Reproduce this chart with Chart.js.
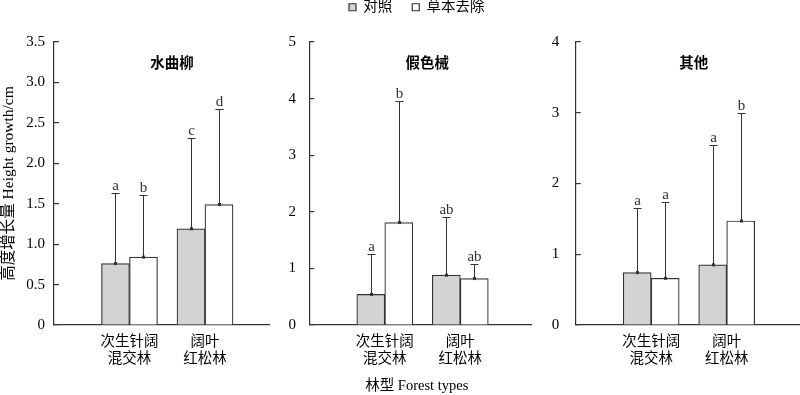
<!DOCTYPE html>
<html><head><meta charset="utf-8">
<script src="https://cdn.jsdelivr.net/npm/chart.js@4"></script>
<style>
html,body{margin:0;padding:0;width:800px;height:395px;overflow:hidden;background:#fff;}
canvas{position:absolute;}
</style></head><body>
<canvas id="c1" width="270" height="395" style="left:0;top:0"></canvas>
<canvas id="c2" width="290" height="415" style="left:270px;top:-20px"></canvas>
<canvas id="c3" width="260" height="395" style="left:540px;top:0"></canvas>
<script>
// ---------- data ----------
const CATEGORIES = ['次生针阔\n混交林', '阔叶\n红松林'];
const SERIES_NAMES = ['对照', '草本去除'];
const PANEL_NAMES = ['水曲柳', '假色械', '其他'];
const Y_TITLE = '高度增长量 Height growth/cm';
const X_TITLE = '林型 Forest types';

// 水曲柳
const P1_CONTROL = [0.76, 1.19];
const P1_REMOVAL = [0.84, 1.49];
const P1_CONTROL_UPPER = [1.63, 2.31];
const P1_REMOVAL_UPPER = [1.61, 2.67];
const P1_CONTROL_SIG = ['a', 'c'];
const P1_REMOVAL_SIG = ['b', 'd'];
// 假色械
const P2_CONTROL = [0.54, 0.88];
const P2_REMOVAL = [1.81, 0.82];
const P2_CONTROL_UPPER = [1.26, 1.91];
const P2_REMOVAL_UPPER = [3.95, 1.08];
const P2_CONTROL_SIG = ['a', 'ab'];
const P2_REMOVAL_SIG = ['b', 'ab'];
// 其他
const P3_CONTROL = [0.74, 0.85];
const P3_REMOVAL = [0.66, 1.47];
const P3_CONTROL_UPPER = [1.65, 2.54];
const P3_REMOVAL_UPPER = [1.74, 3.00];
const P3_CONTROL_SIG = ['a', 'a'];
const P3_REMOVAL_SIG = ['a', 'b'];

const Y_MAX = [3.5, 5, 4];
const Y_STEP = [0.5, 1, 1];

// ---------- styles ----------
const SERIF = '"Liberation Serif", "Noto Sans CJK SC", serif';
const AXIS = '#333';
Chart.defaults.color = '#000';
Chart.defaults.font.family = SERIF;

const errorBars = {
  id: 'errorBars',
  afterDatasetsDraw(chart, args, opts) {
    const ctx = chart.ctx, ys = chart.scales.y;
    chart.data.datasets.forEach((ds, i) => {
      const meta = chart.getDatasetMeta(i);
      meta.data.forEach((bar, j) => {
        const x = Math.round(bar.x) + 0.5;
        const yMean = bar.y;
        const yUp = Math.round(ys.getPixelForValue(ds.upper[j])) + 0.5;
        ctx.save();
        ctx.strokeStyle = opts.color; ctx.lineWidth = opts.lineWidth;
        ctx.beginPath();
        ctx.moveTo(x, yMean); ctx.lineTo(x, yUp);
        ctx.moveTo(x - opts.cap / 2, yUp); ctx.lineTo(x + opts.cap / 2, yUp);
        ctx.stroke();
        ctx.fillStyle = opts.color;
        ctx.fillRect(x - 1.5, yMean - 1.5, 3, 3);
        ctx.font = opts.font; ctx.textAlign = 'center'; ctx.textBaseline = 'alphabetic';
        ctx.fillText(ds.sig[j], x, yUp - opts.gap);
        ctx.restore();
      });
    });
  }
};
const panelTitle = {
  id: 'panelTitle',
  afterDraw(chart, args, opts) {
    const ctx = chart.ctx, a = chart.chartArea;
    ctx.save();
    ctx.font = opts.font; ctx.fillStyle = '#000';
    ctx.textAlign = 'center'; ctx.textBaseline = 'middle';
    ctx.fillText(opts.text, a.left + opts.dx, a.top + opts.dy);
    ctx.restore();
  }
};

function makePanel(id, k, ctrl, rem, ctrlUp, remUp, ctrlSig, remSig, cfg) {
  const toPts = arr => arr.map((v, i) => ({x: i + 1, y: v}));
  const scales = {
    x: {
      type: 'linear', min: 0, max: cfg.xMax, offset: false,
      grid: {display: true, offset: false, drawOnChartArea: false, drawTicks: false},
      border: {display: true, color: AXIS, width: 1.2},
      ticks: {
        stepSize: 1, autoSkip: false, maxRotation: 0, minRotation: 0, padding: 8,
        font: {size: 14.5, family: SERIF},
        callback: v => (Number.isInteger(v) && CATEGORIES[v - 1]) ? CATEGORIES[v - 1].split('\n') : ''
      },
      afterBuildTicks: s => { s.ticks = s.ticks.filter(t => Number.isInteger(t.value)); },
      afterFit: s => { s.height = cfg.xHeight; }
    },
    y: {
      min: 0, max: Y_MAX[k],
      grid: {display: true, drawOnChartArea: false, drawTicks: true, tickLength: -5, color: AXIS, lineWidth: 1.2},
      border: {display: true, color: AXIS, width: 1.2},
      ticks: {
        stepSize: Y_STEP[k], padding: cfg.yPad, font: {size: 15, family: SERIF},
        callback: v => v === 0 ? '0' : (Y_STEP[k] < 1 ? v.toFixed(1) : String(v))
      },
      title: cfg.yTitle ? {display: true, text: Y_TITLE, font: {size: 15.5, family: SERIF}, padding: {top: 0, bottom: 0}} : {display: false},
      afterFit: s => { s.width = cfg.yWidth; }
    }
  };
  if (cfg.rightSpace) {
    scales.yr = {
      position: 'right', display: true,
      grid: {display: false}, border: {display: false}, ticks: {display: false},
      afterFit: s => { s.width = cfg.rightSpace; }
    };
  }
  return new Chart(document.getElementById(id), {
    type: 'bar',
    data: {
      datasets: [
        {label: SERIES_NAMES[0], data: toPts(ctrl), upper: ctrlUp, sig: ctrlSig,
         backgroundColor: '#d3d3d3', borderColor: '#333', borderWidth: 1.2, barThickness: 28},
        {label: SERIES_NAMES[1], data: toPts(rem), upper: remUp, sig: remSig,
         backgroundColor: '#ffffff', borderColor: '#333', borderWidth: 1.2, barThickness: 28}
      ]
    },
    plugins: [errorBars, panelTitle],
    options: {
      responsive: false, animation: false, events: [],
      layout: {padding: cfg.padding},
      scales: scales,
      plugins: {
        legend: cfg.legend ? {
          display: true, position: 'top', weight: 3000,
          labels: {boxWidth: 7, boxHeight: 7, padding: 20, font: {size: 14.5, family: SERIF}}
        } : {display: false},
        subtitle: cfg.legend ? {display: true, text: '', padding: 0, font: {size: 10, lineHeight: '17.5px'}} : {display: false},
        title: cfg.xTitle ? {display: true, position: 'bottom', text: X_TITLE,
          font: {size: 14.5, weight: 'normal', family: SERIF}, padding: {top: 8, bottom: 0}} : {display: false},
        tooltip: {enabled: false},
        errorBars: {color: '#333', lineWidth: 1, cap: 8, gap: 4, font: '15px "Liberation Serif"'},
        panelTitle: {text: PANEL_NAMES[k], font: 'bold 14.5px "Noto Sans CJK SC"', dx: 118, dy: 20}
      }
    }
  });
}

makePanel('c1', 0, P1_CONTROL, P1_REMOVAL, P1_CONTROL_UPPER, P1_REMOVAL_UPPER, P1_CONTROL_SIG, P1_REMOVAL_SIG,
  {padding: {top: 42, right: 0.7, bottom: 0, left: 0}, xMax: 2.852, xHeight: 70, yWidth: 54, yPad: 14, yTitle: true});
makePanel('c2', 1, P2_CONTROL, P2_REMOVAL, P2_CONTROL_UPPER, P2_REMOVAL_UPPER, P2_CONTROL_SIG, P2_REMOVAL_SIG,
  {padding: {top: 0, right: 7.5, bottom: 0, left: 11}, xMax: 2.946, xHeight: 44.6, yWidth: 28.3, yPad: 18.3,
   rightSpace: 20.8, legend: true, xTitle: true});
makePanel('c3', 2, P3_CONTROL, P3_REMOVAL, P3_CONTROL_UPPER, P3_REMOVAL_UPPER, P3_CONTROL_SIG, P3_REMOVAL_SIG,
  {padding: {top: 42, right: 0, bottom: 0, left: 0}, xMax: 2.971, xHeight: 70, yWidth: 35.7, yPad: 21.4});
</script>
</body></html>
